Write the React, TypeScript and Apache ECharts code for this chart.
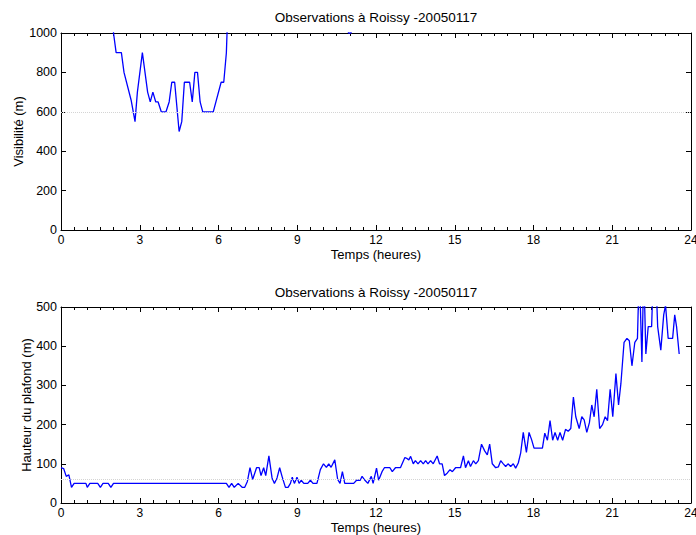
import React, { useEffect, useRef } from "react";
import * as echarts from "echarts";

const titleText = "Observations à Roissy -20050117";
const xName = "Temps (heures)";
const visName = "Visibilité (m)";
const ceilName = "Hauteur du plafond (m)";

// Visibility (m) vs time (hours); values above 1000 are clipped by the axis
const visHours = [0, 1.9, 2.0, 2.1, 2.3, 2.4, 2.67, 2.82, 2.91, 3.1, 3.3, 3.4, 3.5, 3.61, 3.7, 3.82, 4.0, 4.12, 4.22, 4.33, 4.5, 4.6, 4.7, 4.9, 5.0, 5.1, 5.2, 5.3, 5.4, 5.8, 6.1, 6.2, 6.3, 6.35, 6.45, 10.9, 10.95, 11.05, 11.1, 23.5];
const visValues = [10000, 10000, 1000, 900, 900, 800, 660, 550, 700, 900, 700, 650, 700, 650, 650, 600, 600, 650, 750, 750, 500, 550, 750, 750, 650, 800, 800, 650, 600, 600, 750, 750, 900, 1100, 10000, 10000, 1000, 1000, 10000, 10000];
const visThreshold = 600;

// Ceiling height (m) vs time (hours)
const ceilHours = [0.0, 0.1, 0.2, 0.3, 0.4, 0.5, 0.95, 1.0, 1.1, 1.4, 1.5, 1.6, 1.8, 1.9, 2.0, 6.3, 6.4, 6.5, 6.6, 6.75, 6.9, 7.0, 7.1, 7.2, 7.3, 7.45, 7.55, 7.62, 7.72, 7.8, 7.92, 8.04, 8.13, 8.23, 8.33, 8.42, 8.55, 8.65, 8.74, 8.81, 8.89, 8.99, 9.07, 9.15, 9.25, 9.4, 9.5, 9.6, 9.75, 9.88, 10.0, 10.11, 10.2, 10.29, 10.43, 10.54, 10.63, 10.72, 10.81, 11.15, 11.26, 11.4, 11.47, 11.58, 11.69, 11.82, 11.89, 12.02, 12.1, 12.23, 12.32, 12.53, 12.62, 12.74, 12.93, 13.1, 13.19, 13.25, 13.32, 13.42, 13.5, 13.6, 13.7, 13.8, 13.89, 13.98, 14.08, 14.18, 14.33, 14.42, 14.52, 14.61, 14.71, 14.82, 14.91, 15.03, 15.22, 15.33, 15.41, 15.52, 15.6, 15.71, 15.8, 15.9, 16.02, 16.14, 16.24, 16.33, 16.43, 16.56, 16.66, 16.75, 16.85, 16.94, 17.03, 17.13, 17.23, 17.32, 17.42, 17.51, 17.61, 17.73, 17.83, 17.93, 18.02, 18.34, 18.43, 18.53, 18.63, 18.73, 18.82, 18.92, 19.01, 19.11, 19.22, 19.32, 19.42, 19.52, 19.61, 19.74, 19.84, 19.93, 20.03, 20.13, 20.22, 20.31, 20.41, 20.52, 20.63, 20.73, 20.82, 20.92, 21.02, 21.14, 21.24, 21.33, 21.45, 21.56, 21.65, 21.75, 21.86, 21.96, 22.03, 22.13, 22.2, 22.28, 22.37, 22.5, 22.57, 22.65, 22.73, 22.85, 22.96, 23.03, 23.13, 23.3, 23.38, 23.45, 23.55];
const ceilValues = [90, 88, 68, 72, 40, 50, 50, 40, 50, 50, 40, 50, 50, 40, 50, 50, 40, 50, 40, 50, 40, 40, 55, 90, 60, 90, 90, 70, 90, 70, 120, 64, 50, 64, 90, 68, 40, 40, 50, 66, 50, 66, 50, 58, 50, 50, 58, 50, 50, 85, 100, 91, 100, 91, 110, 60, 50, 80, 50, 50, 58, 58, 68, 58, 50, 68, 50, 89, 58, 80, 90, 90, 80, 90, 90, 116, 113, 110, 119, 100, 108, 100, 108, 100, 108, 100, 108, 100, 120, 100, 100, 70, 76, 85, 80, 90, 90, 120, 90, 108, 93, 108, 100, 108, 150, 133, 123, 150, 100, 90, 92, 108, 100, 93, 100, 93, 100, 89, 102, 127, 180, 129, 180, 161, 140, 140, 178, 160, 210, 160, 180, 160, 180, 160, 188, 183, 190, 270, 220, 190, 220, 212, 180, 205, 250, 220, 290, 190, 200, 220, 210, 290, 220, 330, 250, 305, 410, 420, 414, 350, 410, 420, 600, 360, 600, 380, 450, 450, 600, 600, 450, 390, 480, 505, 420, 420, 480, 450, 380];
const ceilThreshold = 60;

const xTicks = { min: 0, max: 24, interval: 3 };
const visTicks = { min: 0, max: 1000, interval: 200 };
const ceilTicks = { min: 0, max: 500, interval: 100 };

const FONT = "Liberation Sans, Arial, Helvetica, sans-serif";

export default function App() {
  const ref = useRef<HTMLDivElement>(null);
  useEffect(() => {
    if (!ref.current) return;
    const chart = echarts.init(ref.current, null, { renderer: "svg" });

    const grids = [
      { left: 61, top: 33, width: 630, height: 197, containLabel: false, outerBoundsMode: "none" },
      { left: 61, top: 307, width: 630, height: 196, containLabel: false, outerBoundsMode: "none" },
    ];

    const mkX = (gridIndex: number, position: string) => ({
      type: "value",
      gridIndex,
      position,
      min: xTicks.min,
      max: xTicks.max,
      interval: xTicks.interval,
      axisLine: { show: true, onZero: false, lineStyle: { color: "#000", width: 1 } },
      axisTick: { show: true, inside: true, length: 5, lineStyle: { color: "#000" } },
      minorTick: { show: true, splitNumber: 6, length: 3, lineStyle: { color: "#000" } },
      axisLabel: {
        show: position === "bottom",
        color: "#000",
        fontSize: 12,
        fontFamily: FONT,
        margin: 4,
        formatter: (v: number) => String(v),
      },
      splitLine: { show: false },
      name: position === "bottom" ? xName : "",
      nameLocation: "middle",
      nameGap: 18,
      nameMoveOverlap: false,
      nameTextStyle: { color: "#000", fontSize: 13, fontFamily: FONT },
    });

    const mkY = (gridIndex: number, position: string, t: any, name: string, gap: number) => ({
      type: "value",
      gridIndex,
      position,
      min: t.min,
      max: t.max,
      interval: t.interval,
      axisLine: { show: true, onZero: false, lineStyle: { color: "#000", width: 1 } },
      axisTick: { show: true, inside: true, length: 5, lineStyle: { color: "#000" } },
      axisLabel: {
        show: position === "left",
        color: "#000",
        fontSize: 12.5,
        fontFamily: FONT,
        margin: 4,
        formatter: (v: number) => String(v),
      },
      splitLine: { show: false },
      name: position === "left" ? name : "",
      nameLocation: "middle",
      nameGap: gap,
      nameRotate: 90,
      nameMoveOverlap: false,
      nameTextStyle: { color: "#000", fontSize: 13, fontFamily: FONT },
    });

    const mkLine = (xIdx: number, yIdx: number, hours: number[], values: number[], thr: number) => ({
      type: "line",
      xAxisIndex: xIdx,
      yAxisIndex: yIdx,
      data: hours.map((h, i) => [h, values[i]]),
      showSymbol: false,
      symbol: "none",
      clip: true,
      lineStyle: { color: "#0000ff", width: 1.3 },
      markLine: {
        silent: true,
        symbol: "none",
        label: { show: false },
        lineStyle: { type: "dotted", color: "#d4d4d4", width: 1 },
        data: [{ yAxis: thr }],
      },
    });

    chart.setOption({
      animation: false,
      backgroundColor: "#fff",
      grid: grids,
      xAxis: [mkX(0, "bottom"), mkX(0, "top"), mkX(1, "bottom"), mkX(1, "top")],
      yAxis: [
        mkY(0, "left", visTicks, visName, 36),
        mkY(0, "right", visTicks, "", 0),
        mkY(1, "left", ceilTicks, ceilName, 28),
        mkY(1, "right", ceilTicks, "", 0),
      ],
      series: [
        mkLine(0, 0, visHours, visValues, visThreshold),
        mkLine(2, 2, ceilHours, ceilValues, ceilThreshold),
      ],
      graphic: [
        {
          type: "text",
          x: 376,
          y: 17,
          style: { text: titleText, textAlign: "center", textVerticalAlign: "middle", fill: "#000", font: `13.5px ${FONT}` },
        },
        {
          type: "text",
          x: 376,
          y: 292,
          style: { text: titleText, textAlign: "center", textVerticalAlign: "middle", fill: "#000", font: `13.5px ${FONT}` },
        },
      ],
    });
    return () => chart.dispose();
  }, []);
  return (
    <div
      ref={ref}
      style={{ position: "absolute", left: 0, top: 0, width: 696, height: 535, background: "#fff" }}
    />
  );
}
